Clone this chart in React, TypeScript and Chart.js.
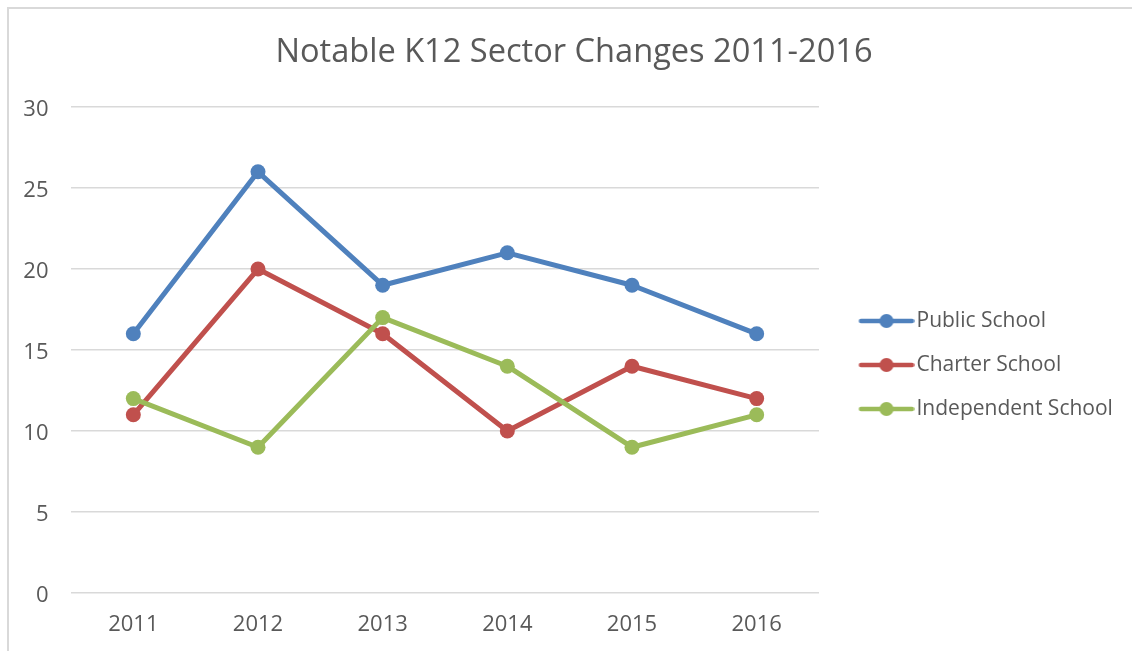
import React, { useEffect, useRef } from "react";
import { Chart, registerables } from "chart.js";

Chart.register(...registerables);

const title = "Notable K12 Sector Changes 2011-2016";
const years = ["2011", "2012", "2013", "2014", "2015", "2016"];
const seriesNames = ["Public School", "Charter School", "Independent School"];
const publicSchool = [16, 26, 19, 21, 19, 16];
const charterSchool = [11, 20, 16, 10, 14, 12];
const independentSchool = [12, 9, 17, 14, 9, 11];
const seriesColors = ["#4f81bd", "#c0504d", "#9bbb59"];
const yMin = 0;
const yMax = 30;
const yStep = 5;

const FONT = "'Open Sans', 'DejaVu Sans', sans-serif";
const TEXT = "#595959";
const GRID = "#d9d9d9";

function makeLegendIcon(color: string): HTMLCanvasElement {
  const c = document.createElement("canvas");
  c.width = 81;
  c.height = 16;
  const ctx = c.getContext("2d")!;
  ctx.strokeStyle = color;
  ctx.lineWidth = 4.5;
  ctx.lineCap = "round";
  ctx.beginPath();
  ctx.moveTo(27.5, 8);
  ctx.lineTo(78.5, 8);
  ctx.stroke();
  ctx.fillStyle = color;
  ctx.beginPath();
  ctx.arc(53, 8, 7, 0, Math.PI * 2);
  ctx.fill();
  return c;
}

export default function App() {
  const ref = useRef<HTMLCanvasElement | null>(null);

  useEffect(() => {
    if (!ref.current) return;
    const values = [publicSchool, charterSchool, independentSchool];
    const icons = seriesColors.map(makeLegendIcon);
    const chart = new Chart(ref.current, {
      type: "line",
      data: {
        labels: years,
        datasets: seriesNames.map((name, i) => ({
          label: name,
          data: values[i],
          yAxisID: "y",
          borderColor: seriesColors[i],
          backgroundColor: seriesColors[i],
          borderWidth: 5,
          borderJoinStyle: "round" as const,
          borderCapStyle: "round" as const,
          pointStyle: "circle" as const,
          pointRadius: 7.5,
          pointHoverRadius: 7.5,
          pointBorderWidth: 0,
          pointBackgroundColor: seriesColors[i],
          tension: 0,
          order: seriesNames.length - 1 - i,
        })),
      },
      options: {
        animation: false,
        responsive: false,
        devicePixelRatio: 1,
        events: [],
        layout: { padding: { left: 14, right: 14, top: 0, bottom: 0 } },
        plugins: {
          tooltip: { enabled: false },
          title: {
            display: true,
            text: title,
            color: TEXT,
            font: { family: FONT, size: 32.6, weight: "normal" },
            padding: { top: 24.45, bottom: 34.45 },
          },
          legend: {
            display: true,
            position: "right",
            align: "center",
            maxWidth: 300,
            labels: {
              usePointStyle: true,
              pointStyleWidth: 64,
              padding: 23,
              color: TEXT,
              font: { family: FONT, size: 21 },
              sort: (a: any, b: any) => a.datasetIndex - b.datasetIndex,
              generateLabels: (c: any) =>
                Chart.defaults.plugins.legend.labels
                  .generateLabels(c)
                  .map((l: any) => ({ ...l, pointStyle: icons[l.datasetIndex], fontColor: TEXT })),
            },
          },
        },
        scales: {
          x: {
            type: "category",
            offset: true,
            grid: { display: false, drawTicks: false },
            border: { display: false },
            ticks: { color: TEXT, font: { family: FONT, size: 22 }, padding: 19, maxRotation: 0 },
            afterFit: (s: any) => {
              s.height = 128;
            },
          },
          y: {
            min: yMin,
            max: yMax,
            grid: { color: GRID, lineWidth: 1.5, drawTicks: false },
            border: { display: false },
            ticks: {
              stepSize: yStep,
              color: TEXT,
              font: { family: FONT, size: 22 },
              padding: 22.5,
              labelOffset: 3,
            },
            afterFit: (s: any) => {
              s.width = 48;
            },
          },
          spacer: {
            type: "linear",
            position: "right",
            weight: 2000,
            display: true,
            grid: { display: false, drawTicks: false },
            border: { display: false },
            ticks: { display: false },
            afterFit: (s: any) => {
              s.width = 6;
            },
          },
        },
      },
    });
    return () => chart.destroy();
  }, []);

  return (
    <div
      style={{
        position: "fixed",
        left: 7,
        top: 7,
        width: 1200,
        height: 800,
        border: "2px solid #d9d9d9",
        background: "#ffffff",
        overflow: "hidden",
      }}
    >
      <canvas ref={ref} width={1130} height={712} style={{ display: "block" }} />
    </div>
  );
}
